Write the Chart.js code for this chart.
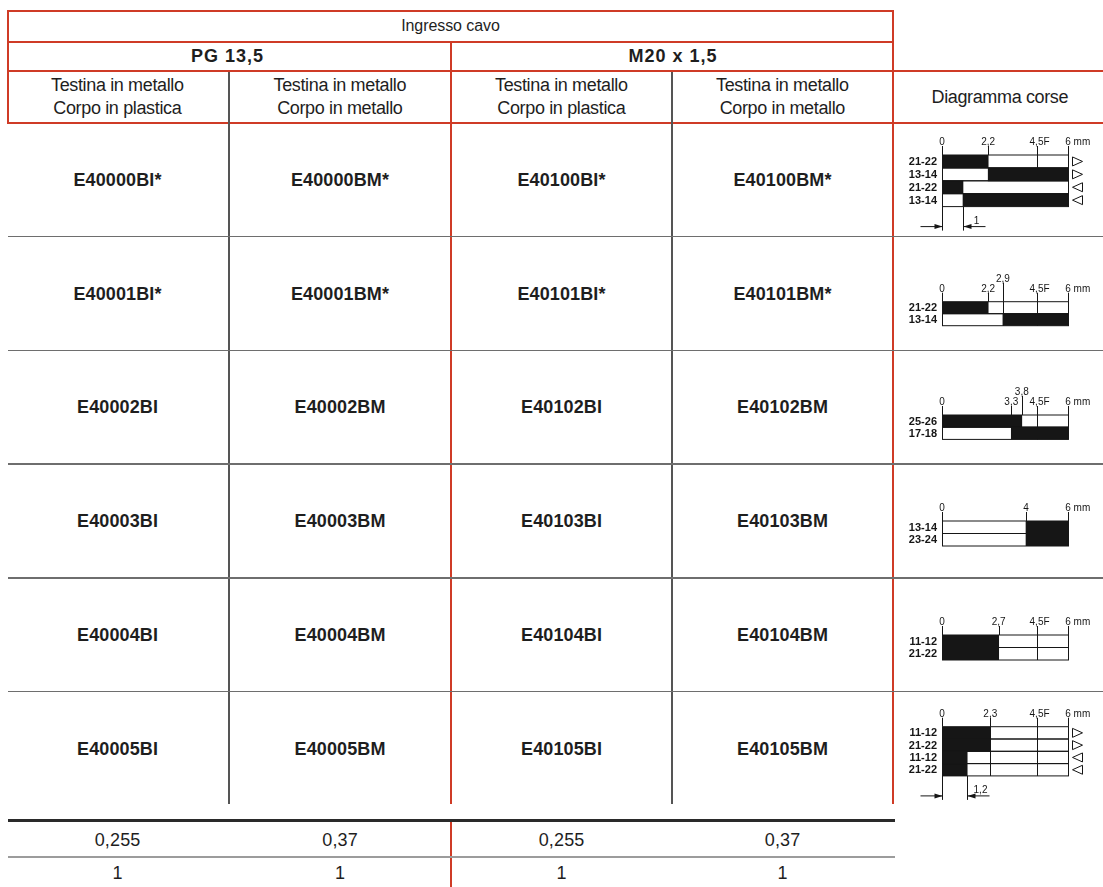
<!DOCTYPE html>
<html><head><meta charset="utf-8">
<script src="https://cdn.jsdelivr.net/npm/chart.js@4.4.1/dist/chart.umd.min.js"></script>
<style>
html,body{margin:0;padding:0;background:#fff;}
#page{position:relative;width:1103px;height:887px;overflow:hidden;background:#fff;font-family:"Liberation Sans Narrow","Liberation Sans",Arial,sans-serif;color:#1e1e1e;}
.ln{position:absolute;}
.t{position:absolute;text-align:center;white-space:nowrap;width:300px;}
.h1{font-size:16px;font-weight:400;line-height:16px;}
.h2{font-size:18px;font-weight:700;line-height:18px;}
.h3{font-size:18px;font-weight:400;line-height:18px;}
.code{font-size:18px;font-weight:700;line-height:18px;}
.val{font-size:18px;font-weight:400;line-height:18px;}
canvas{position:absolute;}
</style></head><body><div id="page"></div>
<script>
// ---------- DATA ----------
const groupTitle = "Ingresso cavo";
const threadLabels = ["PG 13,5", "M20 x 1,5"];
const headLine1 = ["Testina in metallo", "Testina in metallo", "Testina in metallo", "Testina in metallo"];
const headLine2 = ["Corpo in plastica", "Corpo in metallo", "Corpo in plastica", "Corpo in metallo"];
const diagramTitle = "Diagramma corse";
const codesCol1 = ["E40000BI*", "E40001BI*", "E40002BI", "E40003BI", "E40004BI", "E40005BI"];
const codesCol2 = ["E40000BM*", "E40001BM*", "E40002BM", "E40003BM", "E40004BM", "E40005BM"];
const codesCol3 = ["E40100BI*", "E40101BI*", "E40102BI", "E40103BI", "E40104BI", "E40105BI"];
const codesCol4 = ["E40100BM*", "E40101BM*", "E40102BM", "E40103BM", "E40104BM", "E40105BM"];
const weights = ["0,255", "0,37", "0,255", "0,37"];
const packs = ["1", "1", "1", "1"];

// travel diagrams (mm)
const d1Rows = ["21-22", "13-14", "21-22", "13-14"];
const d1Black = [[0, 2.2], [2.2, 6], [0, 1], [1, 6]];
const d1White = [[2.2, 6], [0, 2.2], [1, 6], [0, 1]];
const d1Ticks = [0, 2.2, 4.5, 6];
const d1TickLabels = ["0", "2,2", "4,5F", "6 mm"];
const d1Dirs = ["▷", "▷", "◁", "◁"];
const d1Grid = [4.5];
const d1Dim = 1, d1DimLabel = "1";

const d2Rows = ["21-22", "13-14"];
const d2Black = [[0, 2.2], [2.9, 6]];
const d2White = [[2.2, 6], [0, 2.9]];
const d2Ticks = [0, 2.2, 2.9, 4.5, 6];
const d2TickLabels = ["0", "2,2", "2,9", "4,5F", "6 mm"];
const d2Grid = [2.9, 4.5];

const d3Rows = ["25-26", "17-18"];
const d3Black = [[0, 3.8], [3.3, 6]];
const d3White = [[3.8, 6], [0, 3.3]];
const d3Ticks = [0, 3.3, 3.8, 4.5, 6];
const d3TickLabels = ["0", "3,3", "3,8", "4,5F", "6 mm"];
const d3Grid = [4.5];

const d4Rows = ["13-14", "23-24"];
const d4Black = [[4, 6], [4, 6]];
const d4White = [[0, 4], [0, 4]];
const d4Ticks = [0, 4, 6];
const d4TickLabels = ["0", "4", "6 mm"];
const d4Grid = [];

const d5Rows = ["11-12", "21-22"];
const d5Black = [[0, 2.7], [0, 2.7]];
const d5White = [[2.7, 6], [2.7, 6]];
const d5Ticks = [0, 2.7, 4.5, 6];
const d5TickLabels = ["0", "2,7", "4,5F", "6 mm"];
const d5Grid = [4.5];

const d6Rows = ["11-12", "21-22", "11-12", "21-22"];
const d6Black = [[0, 2.3], [0, 2.3], [0, 1.2], [0, 1.2]];
const d6White = [[2.3, 6], [2.3, 6], [1.2, 6], [1.2, 6]];
const d6Ticks = [0, 2.3, 4.5, 6];
const d6TickLabels = ["0", "2,3", "4,5F", "6 mm"];
const d6Dirs = ["▷", "▷", "◁", "◁"];
const d6Grid = [2.3, 4.5];
const d6Dim = 1.2, d6DimLabel = "1,2";

// ---------- LAYOUT ----------
const RED = "#cf3b26", INK = "#161616";
const page = document.getElementById("page");
const HEAD_BOTTOM = 123, ROW_H = 113.7;
const rowTop = k => HEAD_BOTTOM + k * ROW_H;
const colCenters = [117.5, 340, 561.5, 782.5];

function line(x1, y1, x2, y2, th, color) {
  const d = document.createElement("div");
  d.className = "ln";
  if (y1 === y2) { d.style.left = x1 + "px"; d.style.top = (y1 - th / 2) + "px"; d.style.width = (x2 - x1) + "px"; d.style.height = th + "px"; }
  else { d.style.left = (x1 - th / 2) + "px"; d.style.top = y1 + "px"; d.style.width = th + "px"; d.style.height = (y2 - y1) + "px"; }
  d.style.background = color;
  page.appendChild(d);
}
function text(cx, cy, str, cls) {
  const d = document.createElement("div");
  d.className = "t " + cls;
  d.textContent = str;
  page.appendChild(d);
  const fs = parseFloat(getComputedStyle(d).fontSize);
  d.style.left = (cx - 150) + "px";
  d.style.top = (cy - fs * 0.49) + "px";
  return d;
}

// header lines (red)
line(8, 11, 894, 11, 2, RED);
line(8, 41.5, 894, 41.5, 2, RED);
line(8, 71, 1103, 71, 2, RED);
line(8, 123, 1103, 123, 2, RED);
line(8, 10, 8, 124, 2, RED);
line(893, 10, 893, 804, 2, RED);
line(451, 41.5, 451, 804, 2, RED);
line(451, 819, 451, 887, 2, RED);
// grey column dividers
line(229, 72, 229, 804, 1.2, "#555");
line(672, 72, 672, 804, 1.2, "#555");
// row separators
for (let k = 1; k <= 5; k++) line(8, rowTop(k), 1103, rowTop(k), 1.6, "#6e6e6e");
// bottom table
line(8, 820.5, 895, 820.5, 2.2, "#2a2a2a");
line(8, 857, 895, 857, 2, "#9c9c9c");

// header texts
text(450.5, 26.2, groupTitle, "h1");
text(227, 55.8, threadLabels[0], "h2");
text(672.5, 55.8, threadLabels[1], "h2");
headLine1.forEach((s, i) => text(colCenters[i], 85, s, "h3"));
headLine2.forEach((s, i) => text(colCenters[i], 108.3, s, "h3"));
text(1000, 97, diagramTitle, "h3");
[codesCol1, codesCol2, codesCol3, codesCol4].forEach((col, c) =>
  col.forEach((s, r) => text(colCenters[c], rowTop(r) + ROW_H / 2, s, "code")));
weights.forEach((s, i) => text(colCenters[i], 840, s, "val"));
packs.forEach((s, i) => text(colCenters[i], 872.5, s, "val"));

// fit tracking so widths match the original condensed face
function fitClass(cls, ref, target) {
  const els = document.querySelectorAll("." + cls);
  const cs = getComputedStyle(els[0]);
  const c = document.createElement("canvas").getContext("2d");
  c.font = cs.fontWeight + " " + cs.fontSize + " " + cs.fontFamily;
  const ls = (target - c.measureText(ref).width) / (ref.length - 1);
  els.forEach(e => { e.style.letterSpacing = ls + "px"; e.style.textIndent = ls + "px"; });
}
fitClass("h1", "Ingresso cavo", 98.6);
fitClass("h2", "PG 13,5", 72);
fitClass("h3", "Testina in metallo", 133);
fitClass("code", "E40000BI*", 88);
fitClass("val", "0,255", 45.7);

// ---------- DIAGRAMS ----------
const diagrams = [
  { rows: d1Rows, black: d1Black, white: d1White, ticks: d1Ticks, tickLabels: d1TickLabels, dirs: d1Dirs, grid: d1Grid, gridLimit: 2, dim: d1Dim, dimLabel: d1DimLabel },
  { rows: d2Rows, black: d2Black, white: d2White, ticks: d2Ticks, tickLabels: d2TickLabels, grid: d2Grid },
  { rows: d3Rows, black: d3Black, white: d3White, ticks: d3Ticks, tickLabels: d3TickLabels, grid: d3Grid },
  { rows: d4Rows, black: d4Black, white: d4White, ticks: d4Ticks, tickLabels: d4TickLabels, grid: d4Grid },
  { rows: d5Rows, black: d5Black, white: d5White, ticks: d5Ticks, tickLabels: d5TickLabels, grid: d5Grid },
  { rows: d6Rows, black: d6Black, white: d6White, ticks: d6Ticks, tickLabels: d6TickLabels, dirs: d6Dirs, grid: d6Grid, dim: d6Dim, dimLabel: d6DimLabel }
];
const diagBarTop = [155, 301.7, 415, 521, 635, 726.7];
const diagRowH = [12.9, 12, 12.2, 12.5, 12.5, 12.3];
const CANVAS_LEFT = 893, CANVAS_W = 210, AXIS_LEFT = 942, AXIS_RIGHT = 1068;
const SMALL_FONT = '"Liberation Sans", Arial, sans-serif';

function diagPlugin(d) {
  return {
    id: "diag",
    afterDatasetsDraw(chart) {
      const ctx = chart.ctx, xs = chart.scales.x;
      const els = chart.getDatasetMeta(0).data;
      const rows = els.map(e => ({ top: e.y - e.height / 2, bot: e.y + e.height / 2, mid: e.y }));
      const x0 = xs.getPixelForValue(0), x6 = xs.getPixelForValue(6);
      ctx.save();
      ctx.strokeStyle = INK; ctx.fillStyle = INK; ctx.lineWidth = 1;
      // inner grid lines
      const lim = d.gridLimit || rows.length;
      d.grid.forEach(v => {
        const x = Math.round(xs.getPixelForValue(v)) + 0.5;
        ctx.beginPath(); ctx.moveTo(x, rows[0].top); ctx.lineTo(x, rows[lim - 1].bot); ctx.stroke();
      });
      // row outlines
      rows.forEach(r => ctx.strokeRect(Math.round(x0) + 0.5, r.top, Math.round(x6) - Math.round(x0), r.bot - r.top));
      // ticks + labels
      const barTop = rows[0].top;
      let prevX = -1e9;
      ctx.font = "10px " + SMALL_FONT;
      ctx.textAlign = "left"; ctx.textBaseline = "alphabetic";
      d.ticks.forEach((v, i) => {
        const x = xs.getPixelForValue(v);
        const raised = x - prevX < 18;
        if (!raised) prevX = x;
        const base = barTop - (raised ? 19 : 9);
        const xl = Math.round(x) + 0.5;
        ctx.beginPath(); ctx.moveTo(xl, base); ctx.lineTo(xl, barTop); ctx.stroke();
        const lab = d.tickLabels[i];
        const m = lab.match(/^[\d,]+/);
        const core = m ? m[0] : lab;
        ctx.fillText(lab, x - ctx.measureText(core).width / 2, base - 1);
      });
      // row labels
      ctx.font = "bold 11px " + SMALL_FONT;
      ctx.textAlign = "right"; ctx.textBaseline = "middle";
      rows.forEach((r, i) => ctx.fillText(d.rows[i], x0 - 5, r.mid + 0.5));
      // direction triangles
      if (d.dirs) {
        d.dirs.forEach((s, i) => {
          const m = rows[i].mid, a = x6 + 4.5, b = x6 + 14.5;
          ctx.beginPath();
          if (s === "▷") { ctx.moveTo(a, m - 4.5); ctx.lineTo(a, m + 4.5); ctx.lineTo(b, m); }
          else { ctx.moveTo(b, m - 4.5); ctx.lineTo(b, m + 4.5); ctx.lineTo(a, m); }
          ctx.closePath(); ctx.stroke();
        });
      }
      // dimension
      if (d.dim != null) {
        const bot = rows[rows.length - 1].bot, ay = bot + 20;
        const xa = Math.round(x0) + 0.5, xd = Math.round(xs.getPixelForValue(d.dim)) + 0.5;
        ctx.beginPath();
        ctx.moveTo(xa, bot); ctx.lineTo(xa, ay + 4);
        ctx.moveTo(xd, bot); ctx.lineTo(xd, ay + 4);
        ctx.moveTo(xa - 22, ay); ctx.lineTo(xa, ay);
        ctx.moveTo(xd + 22, ay); ctx.lineTo(xd, ay);
        ctx.stroke();
        ctx.beginPath(); ctx.moveTo(xa, ay); ctx.lineTo(xa - 8, ay - 2.5); ctx.lineTo(xa - 8, ay + 2.5); ctx.closePath(); ctx.fill();
        ctx.beginPath(); ctx.moveTo(xd, ay); ctx.lineTo(xd + 8, ay - 2.5); ctx.lineTo(xd + 8, ay + 2.5); ctx.closePath(); ctx.fill();
        ctx.font = "10px " + SMALL_FONT;
        ctx.textAlign = "center"; ctx.textBaseline = "alphabetic";
        ctx.fillText(d.dimLabel, xd + 13, ay - 3);
      }
      ctx.restore();
    }
  };
}

diagrams.forEach((d, i) => {
  const cTop = Math.round(rowTop(i)) + 1;
  const cH = 112;
  const cv = document.createElement("canvas");
  cv.width = CANVAS_W; cv.height = cH;
  cv.style.left = CANVAS_LEFT + "px"; cv.style.top = cTop + "px";
  page.appendChild(cv);
  const padTop = diagBarTop[i] - cTop;
  const padBottom = cH - padTop - d.rows.length * diagRowH[i];
  new Chart(cv, {
    type: "bar",
    data: {
      labels: d.rows,
      datasets: [
        { data: d.black, backgroundColor: INK, borderWidth: 0, grouped: false, barPercentage: 1, categoryPercentage: 1 },
        { data: d.white, backgroundColor: "#ffffff", borderWidth: 0, grouped: false, barPercentage: 1, categoryPercentage: 1 }
      ]
    },
    options: {
      indexAxis: "y",
      responsive: false,
      animation: false,
      events: [],
      layout: { padding: { left: AXIS_LEFT - CANVAS_LEFT, right: CANVAS_LEFT + CANVAS_W - AXIS_RIGHT, top: padTop, bottom: padBottom } },
      scales: { x: { display: false, min: 0, max: 6 }, y: { display: false } },
      plugins: { legend: { display: false }, tooltip: { enabled: false } }
    },
    plugins: [diagPlugin(d)]
  });
});
</script></body></html>
